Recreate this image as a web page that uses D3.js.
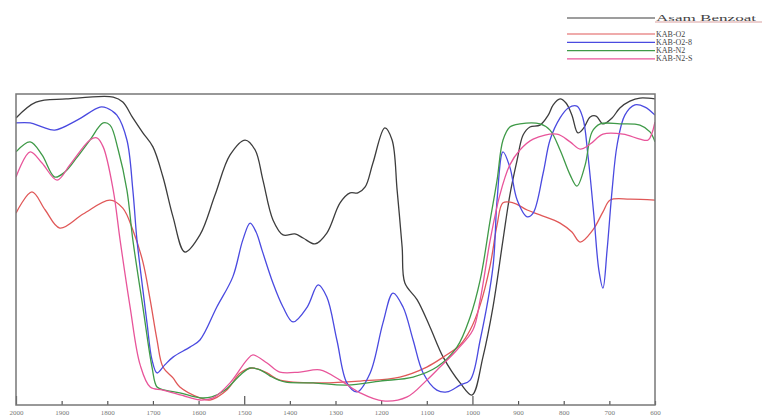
<!DOCTYPE html>
<html>
<head>
<meta charset="utf-8">
<script src="https://cdn.jsdelivr.net/npm/d3@7"></script>
<style>
  body { margin: 0; background: #fff; }
  svg { display: block; }
</style>
</head>
<body>
<div id="chart"></div>
<script>
// Series names and colours (legend order)
var seriesNames = ["Asam Benzoat", "KAB-O2", "KAB-O2-8", "KAB-N2", "KAB-N2-S"];
var seriesColors = ["#3d3d3d", "#e05858", "#4a4ae0", "#3f9a48", "#e8559a"];

// x axis tick labels (wavenumber, cm-1)
var xTicks = [2000, 1900, 1800, 1700, 1600, 1500, 1400, 1300, 1200, 1100, 1000, 900, 800, 700, 600];

// Asam Benzoat (black)
var benzoatWn = [2000, 1956, 1890, 1787, 1766, 1744, 1722, 1700, 1678, 1656, 1630, 1597, 1564, 1531, 1498, 1476,
  1459, 1437, 1415, 1389, 1371, 1345, 1319, 1290, 1268, 1251, 1235, 1218, 1192, 1176, 1165, 1154, 1148, 1121,
  1093, 1064, 1027, 1001, 977, 955, 933, 918, 902, 889, 874, 852, 834, 823, 808, 795, 782, 769, 756, 742, 729,
  714, 694, 677, 655, 633, 600];
var benzoatT = [92.3, 97.4, 98.4, 99.0, 97.4, 92.3, 87.5, 83.0, 73.3, 60.5, 49.2, 54.7, 67.5, 80.4, 85.2, 82.0,
  72.3, 59.5, 54.7, 55.0, 53.7, 51.8, 55.3, 65.0, 68.2, 68.2, 70.1, 77.8, 89.1, 85.2, 69.1, 50.8, 39.2, 33.8,
  25.1, 15.4, 7.1, 3.2, 15.4, 31.5, 53.1, 67.5, 78.8, 86.8, 89.4, 90.0, 93.2, 96.5, 98.4, 97.1, 93.2, 87.5, 89.1,
  92.6, 92.9, 90.4, 92.3, 95.5, 97.7, 98.7, 98.4];

// KAB-O2 (red)
var o2Wn = [2000, 1965, 1936, 1904, 1853, 1794, 1766, 1744, 1722, 1706, 1691, 1678, 1656, 1641, 1597, 1575, 1538,
  1509, 1481, 1450, 1422, 1334, 1246, 1159, 1100, 1064, 1027, 1005, 983, 961, 946, 933, 911, 880, 852, 808, 782,
  764, 736, 714, 698, 655, 600];
var o2T = [61.7, 68.5, 62.7, 56.9, 61.4, 65.9, 63.3, 56.3, 46.0, 33.8, 20.9, 12.2, 8.7, 5.8, 2.3, 1.6, 4.8,
  10.3, 11.9, 10.3, 8.0, 7.1, 7.7, 9.0, 12.2, 15.4, 19.3, 24.1, 32.2, 45.0, 57.9, 65.0, 65.0, 62.7, 61.1, 58.5,
  55.6, 52.4, 56.3, 62.1, 65.9, 66.2, 65.9];

// KAB-O2-8 (blue)
var o28Wn = [2000, 1969, 1943, 1915, 1866, 1816, 1801, 1779, 1757, 1744, 1735, 1722, 1713, 1702, 1691, 1674, 1656,
  1619, 1597, 1560, 1525, 1503, 1487, 1474, 1461, 1437, 1415, 1393, 1362, 1338, 1319, 1297, 1275, 1253, 1224,
  1196, 1174, 1152, 1130, 1108, 1078, 1056, 1027, 1005, 983, 955, 946, 933, 918, 902, 880, 867, 845, 830, 808,
  790, 771, 758, 747, 734, 723, 714, 705, 694, 683, 666, 644, 622, 600];
var o28T = [90.7, 90.7, 89.4, 88.4, 91.6, 95.8, 95.5, 93.2, 85.2, 69.1, 53.1, 37.0, 26.4, 14.5, 10.3, 12.9, 15.4,
  18.6, 20.9, 31.5, 41.2, 53.1, 58.5, 55.6, 49.8, 39.2, 31.5, 26.7, 31.5, 38.6, 34.7, 20.9, 7.1, 4.2, 10.3,
  26.4, 36.0, 31.5, 20.9, 10.3, 4.8, 4.2, 6.4, 8.0, 20.9, 44.4, 65.9, 81.4, 76.5, 65.9, 60.5, 61.7, 74.6, 85.2,
  92.3, 95.5, 96.1, 92.3, 80.4, 61.1, 43.4, 37.6, 49.8, 69.1, 83.6, 93.2, 96.5, 95.8, 93.2];

// KAB-N2 (green)
var n2Wn = [2000, 1969, 1943, 1915, 1893, 1866, 1838, 1809, 1794, 1776, 1757, 1744, 1722, 1702, 1691, 1674, 1641,
  1597, 1571, 1542, 1509, 1487, 1465, 1443, 1411, 1349, 1275, 1202, 1130, 1078, 1034, 1005, 983, 961, 946, 933,
  918, 896, 852, 830, 808, 786, 771, 753, 738, 720, 677, 633, 611, 600];
var n2T = [81.4, 84.6, 80.4, 73.3, 74.9, 79.7, 85.2, 90.7, 90.0, 82.0, 69.1, 53.1, 31.5, 12.2, 5.8, 4.8, 3.9,
  2.3, 2.6, 4.8, 9.6, 11.9, 11.3, 9.3, 7.4, 7.1, 6.4, 7.7, 9.0, 12.2, 18.6, 28.3, 40.2, 59.5, 72.3, 85.2, 89.4,
  90.4, 90.4, 88.4, 82.0, 74.0, 70.4, 77.2, 87.8, 90.4, 90.4, 90.0, 87.8, 84.6];

// KAB-N2-S (pink)
var n2sWn = [2000, 1969, 1943, 1910, 1882, 1838, 1823, 1809, 1787, 1772, 1750, 1728, 1706, 1678, 1625, 1597, 1568,
  1531, 1494, 1481, 1450, 1422, 1378, 1334, 1290, 1246, 1196, 1143, 1100, 1071, 1034, 999, 983, 961, 940, 918,
  896, 867, 815, 786, 764, 742, 714, 670, 633, 615, 600];
var n2sT = [73.3, 81.4, 77.8, 72.3, 77.2, 85.2, 85.9, 83.0, 69.1, 53.1, 31.5, 12.9, 5.8, 4.8, 2.6, 1.6, 2.3,
  7.1, 14.5, 16.1, 13.5, 10.6, 10.6, 11.3, 8.0, 3.9, 1.3, 2.6, 8.0, 12.2, 17.7, 24.1, 33.8, 53.1, 67.5, 77.2,
  82.0, 85.5, 87.1, 84.6, 82.3, 83.9, 87.1, 87.1, 85.5, 85.2, 91.0];

var seriesWn = [benzoatWn, o2Wn, o28Wn, n2Wn, n2sWn];
var seriesT = [benzoatT, o2T, o28T, n2T, n2sT];

var svgWidth = 762;
var svgHeight = 418;

var margin = {
  top: 94,
  right: 107,
  bottom: 13,
  left: 16
};

var width = svgWidth - margin.left - margin.right;
var height = svgHeight - margin.top - margin.bottom;

var svg = d3.select("#chart")
  .append("svg")
  .attr("width", svgWidth)
  .attr("height", svgHeight);

var chartGroup = svg.append("g")
  .attr("transform", `translate(${margin.left}, ${margin.top})`);

// Scales: wavenumber runs right to left
var xScale = d3.scaleLinear()
  .domain([2000, 600])
  .range([0, width]);

var yScale = d3.scaleLinear()
  .domain([0, 100])
  .range([height, 0]);

// Bottom axis with inward ticks, longer every 500
var bottomAxis = d3.axisBottom(xScale)
  .tickValues(xTicks)
  .tickFormat(d3.format("d"))
  .tickSizeInner(-4)
  .tickSizeOuter(0)
  .tickPadding(5);

var axisG = chartGroup.append("g")
  .attr("transform", `translate(0, ${height})`)
  .call(bottomAxis);

axisG.select(".domain").remove();
axisG.selectAll(".tick line")
  .attr("stroke", "#555")
  .attr("stroke-width", 1.2)
  .attr("y2", d => d % 500 === 0 ? -9 : -4);
axisG.selectAll(".tick text")
  .attr("font-family", "Liberation Serif, serif")
  .attr("font-size", 7)
  .attr("fill", "#777");

// Curves
var line = d3.line()
  .x(d => xScale(d[0]))
  .y(d => yScale(d[1]))
  .curve(d3.curveCatmullRom.alpha(0.5));

chartGroup.append("defs").append("clipPath")
  .attr("id", "plotClip")
  .append("rect")
  .attr("width", width)
  .attr("height", height);

seriesNames.forEach(function(name, i) {
  var pts = seriesWn[i].map((w, j) => [w, seriesT[i][j]]);
  chartGroup.append("path")
    .datum(pts)
    .attr("clip-path", "url(#plotClip)")
    .attr("fill", "none")
    .attr("stroke", seriesColors[i])
    .attr("stroke-width", 1.3)
    .attr("d", line);
});

// Frame
chartGroup.append("rect")
  .attr("width", width)
  .attr("height", height)
  .attr("fill", "none")
  .attr("stroke", "#777")
  .attr("stroke-width", 1.5);

// Legend
var legend = svg.append("g");
seriesNames.forEach(function(name, i) {
  var ly = i === 0 ? 18 : 34 + (i - 1) * 8.3;
  legend.append("line")
    .attr("x1", 567)
    .attr("x2", 655)
    .attr("y1", ly)
    .attr("y2", ly)
    .attr("stroke", seriesColors[i])
    .attr("stroke-width", 1.2);
  var t = legend.append("text")
    .attr("x", 656)
    .attr("y", ly + 2.5)
    .attr("font-family", "Liberation Serif, serif")
    .attr("font-size", 8)
    .attr("fill", "#444")
    .text(name);
  if (i === 0) {
    t.attr("textLength", 100).attr("lengthAdjust", "spacingAndGlyphs");
    legend.append("line")
      .attr("x1", 655).attr("x2", 762)
      .attr("y1", ly + 4).attr("y2", ly + 4)
      .attr("stroke", "#c06060")
      .attr("stroke-width", 0.6);
  }
});
</script>
</body>
</html>
